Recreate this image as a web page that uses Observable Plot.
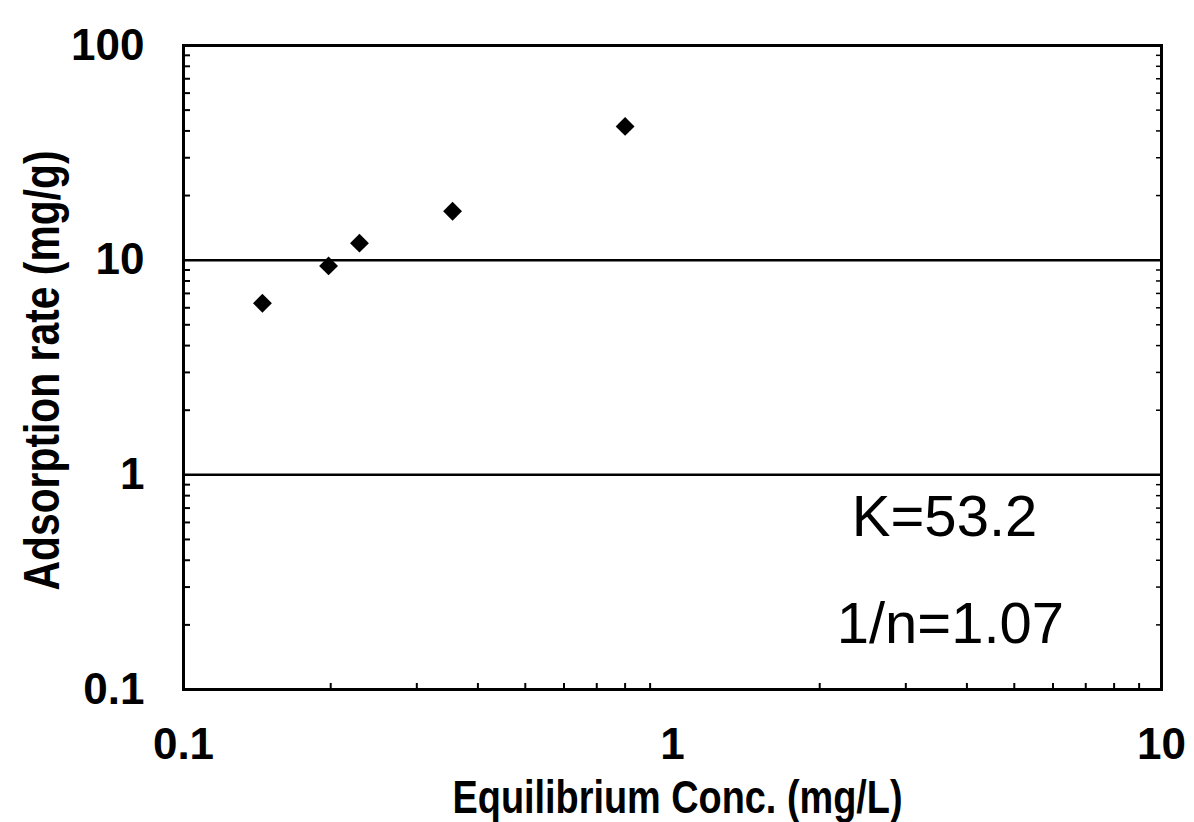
<!DOCTYPE html>
<html>
<head>
<meta charset="utf-8">
<script src="https://cdn.jsdelivr.net/npm/d3@7"></script>
<script src="https://cdn.jsdelivr.net/npm/@observablehq/plot@0.6"></script>
<style>
  html, body { margin: 0; padding: 0; background: #fff; }
  #chart svg { display: block; }
</style>
</head>
<body>
<div id="chart"></div>
<script>
// Data
const conc = [0.145, 0.198, 0.229, 0.355, 0.80];     // Equilibrium Conc. (mg/L)
const rate = [6.3, 9.4, 12.0, 16.9, 42.0];           // Adsorption rate (mg/g)
const xTicks = [0.1, 1, 10];
const yTicks = [0.1, 1, 10, 100];
const gridY = [1, 10];
const xMinor = [0.2,0.3,0.4,0.5,0.6,0.7,0.8,0.9,2,3,4,5,6,7,8,9];
const yMinor = [0.2,0.3,0.4,0.5,0.6,0.7,0.8,0.9,2,3,4,5,6,7,8,9,20,30,40,50,60,70,80,90];
const xTitle = "Equilibrium Conc. (mg/L)";
const yTitle = "Adsorption rate (mg/g)";
const notes = ["K=53.2", "1/n=1.07"];
const noteX = [3.6, 3.7];
const noteY = [0.63, 0.2];

const points = conc.map((c, i) => ({x: c, y: rate[i]}));
const annotations = notes.map((t, i) => ({x: noteX[i], y: noteY[i], t}));

const boldFont = "'Liberation Sans', Arial, sans-serif";
const W = 1194, H = 822, mL = 183, mR = 33, mT = 45, mB = 133;
const pw = W - mL - mR, ph = H - mT - mB;

const chart = Plot.plot({
  width: W, height: H,
  marginLeft: mL, marginRight: mR, marginTop: mT, marginBottom: mB,
  x: {type: "log", domain: [0.1, 10]},
  y: {type: "log", domain: [0.1, 100]},
  style: {background: "#fff", color: "#000"},
  marks: [
    Plot.ruleY(gridY, {stroke: "#000", strokeWidth: 2.5}),
    // inward minor ticks (bottom, left, right)
    Plot.ruleX(xMinor, {x: d => d, stroke: "#000", strokeWidth: 2, insetTop: ph - 6}),
    Plot.ruleY(yMinor, {y: d => d, stroke: "#000", strokeWidth: 2, insetRight: pw - 7}),
    Plot.ruleY(yMinor, {y: d => d, stroke: "#000", strokeWidth: 1.5, insetLeft: pw - 5}),
    Plot.frame({stroke: "#000", strokeWidth: 3}),
    Plot.axisX({ticks: xTicks, tickSize: 0, tickPadding: 38, tickFormat: d => String(d),
      fontSize: 44, fontWeight: "bold", fontFamily: boldFont, label: null}),
    Plot.axisY({ticks: yTicks, tickSize: 0, tickPadding: 39, tickFormat: d => String(d),
      fontSize: 44, fontWeight: "bold", fontFamily: boldFont, label: null}),
    Plot.dot(points, {x: "x", y: "y", symbol: "diamond2", r: 8.5, fill: "#000", stroke: "none"}),
    Plot.text(annotations, {x: "x", y: "y", text: "t", fontSize: 58,
      fontFamily: "'Liberation Sans', Arial, sans-serif", fill: "#000", textAnchor: "middle", lineAnchor: "middle"}),
    Plot.text([xTitle], {frameAnchor: "bottom", dy: 109, dx: 5, text: d => d, fontSize: 46,
      fontWeight: "bold", fontFamily: boldFont, fill: "#000", textAnchor: "middle", lineAnchor: "middle"}),
    Plot.text([yTitle], {frameAnchor: "left", dx: -141, dy: 3, rotate: -90, text: d => d, fontSize: 50,
      fontWeight: "bold", fontFamily: boldFont, fill: "#000", textAnchor: "middle", lineAnchor: "middle"})
  ]
});
// condense the two axis titles to the reference's narrow bold lettering
d3.select(chart).selectAll("text").each(function() {
  const t = this.textContent;
  if (t === xTitle) d3.select(this).attr("textLength", 450).attr("lengthAdjust", "spacingAndGlyphs");
  if (t === yTitle) d3.select(this).attr("textLength", 440).attr("lengthAdjust", "spacingAndGlyphs");
});
document.getElementById("chart").append(chart);
</script>
</body>
</html>
